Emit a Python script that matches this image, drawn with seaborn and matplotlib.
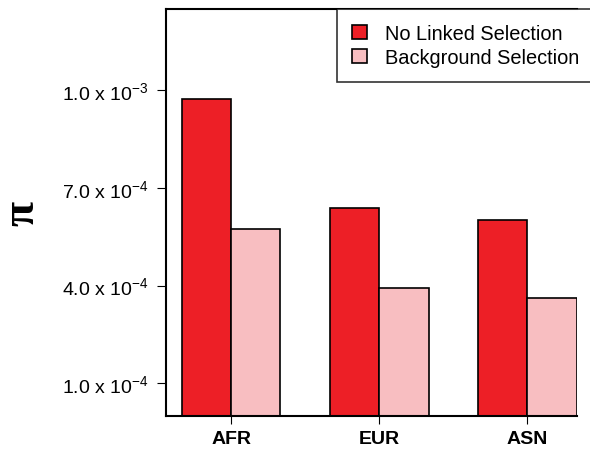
import numpy as np
import pandas as pd
import matplotlib
matplotlib.use("Agg")
import matplotlib.pyplot as plt
import seaborn as sns
from matplotlib.patches import Patch

# ── data ──
populations = ["AFR", "EUR", "ASN"]
series_names = ["No Linked Selection", "Background Selection"]
no_linked = [9.72e-4, 6.38e-4, 6.03e-4]
background = [5.75e-4, 3.93e-4, 3.61e-4]
y_ticks = [1e-4, 4e-4, 7e-4, 1e-3]
y_tick_labels = [r"1.0 x 10$^{-4}$", r"4.0 x 10$^{-4}$",
                 r"7.0 x 10$^{-4}$", r"1.0 x 10$^{-3}$"]
colors = ["#ED1F26", "#F8BEC1"]

df = pd.DataFrame({
    "pop": populations * 2,
    "series": [series_names[0]] * 3 + [series_names[1]] * 3,
    "pi": no_linked + background,
})

sns.set_style("ticks")
plt.rcParams["font.family"] = ["Liberation Sans", "DejaVu Sans"]
plt.rcParams["mathtext.fontset"] = "custom"
plt.rcParams["mathtext.rm"] = "Liberation Sans"
plt.rcParams["mathtext.it"] = "Liberation Sans:italic"
plt.rcParams["mathtext.bf"] = "Liberation Sans:bold"
for k in ["text.color", "axes.labelcolor", "xtick.color", "ytick.color"]:
    plt.rcParams[k] = "black"

fig = plt.figure(figsize=(5.9, 4.52), dpi=100)
ax = fig.add_axes([166 / 590, 1 - 416.7 / 452, (576.7 - 166) / 590, (416.7 - 10) / 452])

sns.barplot(data=df, x="pop", y="pi", hue="series", order=populations,
            hue_order=series_names, palette=colors, saturation=1,
            width=2 / 3, edgecolor="black", linewidth=1.2, ax=ax, legend=False)

ax.set_xlim(-0.439, 2 + 1 / 3)
ax.set_ylim(0, 1.25e-3)
ax.set_yticks(y_ticks)
ax.set_yticklabels(y_tick_labels, fontsize=14)
ax.set_xticks(range(len(populations)))
ax.set_xticklabels(populations, fontsize=14, fontweight="bold")
ax.tick_params(axis="y", length=6.5, width=0.8, pad=6)
ax.tick_params(axis="x", length=6, width=0.8, pad=4)
ax.set_xlabel("")
ax.set_ylabel("π", family=["Liberation Serif", "DejaVu Serif"], fontsize=33,
              fontweight="bold", labelpad=13)

for side in ["left", "bottom", "top"]:
    ax.spines[side].set_visible(True)
    ax.spines[side].set_linewidth(1.5)
    ax.spines[side].set_color("black")
ax.spines["right"].set_visible(False)

handles = [Patch(facecolor=c, edgecolor="black", linewidth=1.2) for c in colors]
leg = fig.legend(handles, series_names, loc="upper left",
                 bbox_to_anchor=(337 / 590, 1 - 10 / 452),
                 bbox_transform=fig.transFigure, fontsize=14.4,
                 frameon=True, fancybox=False, edgecolor="black",
                 handlelength=0.75, handleheight=0.75, handletextpad=0.9,
                 labelspacing=0.25, borderpad=0.75, borderaxespad=0)
leg.get_frame().set_linewidth(1.2)

fig.savefig("out.png", dpi=100)
